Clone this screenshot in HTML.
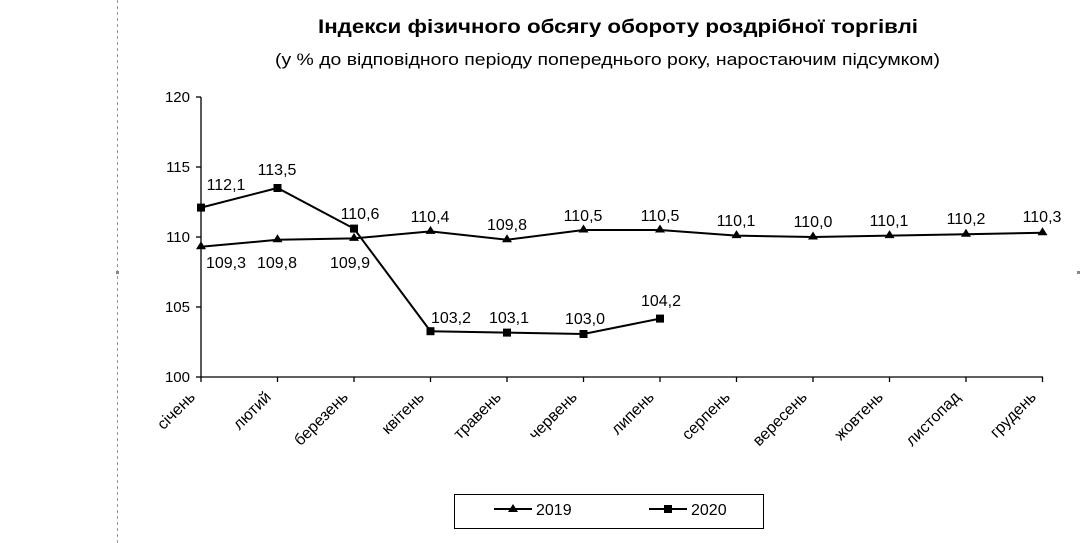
<!DOCTYPE html>
<html><head><meta charset="utf-8"><style>
html,body{margin:0;padding:0;background:#fff;}
svg{display:block;font-family:"Liberation Sans",Arial,sans-serif;}
</style></head><body>
<svg width="1082" height="543" viewBox="0 0 1082 543" xmlns="http://www.w3.org/2000/svg">
<line x1="117.5" y1="0" x2="117.5" y2="543" stroke="#999" stroke-dasharray="3,3"/>
<rect x="116" y="271" width="3" height="3" fill="#888"/>
<rect x="1077" y="271" width="3" height="3" fill="#888"/>
<text x="318" y="33" font-size="19" font-weight="bold" textLength="600" lengthAdjust="spacingAndGlyphs">Індекси фізичного обсягу обороту роздрібної торгівлі</text>
<text x="275" y="65" font-size="17" textLength="665" lengthAdjust="spacingAndGlyphs">(у % до відповідного періоду попереднього року, наростаючим підсумком)</text>
<g stroke="#000" stroke-width="1.3">
<line x1="201" y1="97" x2="201" y2="377"/>
<line x1="201" y1="377" x2="1043" y2="377"/>
<line x1="196" y1="97" x2="201" y2="97"/><line x1="196" y1="167" x2="201" y2="167"/><line x1="196" y1="237" x2="201" y2="237"/><line x1="196" y1="307" x2="201" y2="307"/><line x1="196" y1="377" x2="201" y2="377"/>
</g>
<g font-size="15" text-anchor="end">
<text x="190" y="102">120</text><text x="190" y="172">115</text><text x="190" y="242">110</text><text x="190" y="312">105</text><text x="190" y="382">100</text>
</g>
<g stroke="#000" stroke-width="1.3">
<line x1="201" y1="377" x2="201" y2="382"/><line x1="277.5" y1="377" x2="277.5" y2="382"/><line x1="354" y1="377" x2="354" y2="382"/><line x1="430.5" y1="377" x2="430.5" y2="382"/><line x1="507" y1="377" x2="507" y2="382"/><line x1="583.5" y1="377" x2="583.5" y2="382"/><line x1="660" y1="377" x2="660" y2="382"/><line x1="736.5" y1="377" x2="736.5" y2="382"/><line x1="813" y1="377" x2="813" y2="382"/><line x1="889.5" y1="377" x2="889.5" y2="382"/><line x1="966" y1="377" x2="966" y2="382"/><line x1="1042.5" y1="377" x2="1042.5" y2="382"/>
</g>
<g font-size="16" text-anchor="end">
<text transform="translate(196,398) rotate(-45)">січень</text>
<text transform="translate(272,398) rotate(-45)">лютий</text>
<text transform="translate(349,398) rotate(-45)">березень</text>
<text transform="translate(425,398) rotate(-45)">квітень</text>
<text transform="translate(502,398) rotate(-45)">травень</text>
<text transform="translate(578,398) rotate(-45)">червень</text>
<text transform="translate(655,398) rotate(-45)">липень</text>
<text transform="translate(731,398) rotate(-45)">серпень</text>
<text transform="translate(808,398) rotate(-45)">вересень</text>
<text transform="translate(884,398) rotate(-45)">жовтень</text>
<text transform="translate(961,398) rotate(-45)">листопад</text>
<text transform="translate(1037,398) rotate(-45)">грудень</text>
</g>
<polyline fill="none" stroke="#000" stroke-width="2" points="201,246.8 277.5,239.8 354,238.4 430.5,231.4 507,239.8 583.5,230 660,230 736.5,235.6 813,237 889.5,235.6 966,234.2 1042.5,232.8"/>
<g fill="#000">
<path d="M201,241.3 l5,8 h-10z"/><path d="M277.5,234.3 l5,8 h-10z"/><path d="M354,232.9 l5,8 h-10z"/><path d="M430.5,225.9 l5,8 h-10z"/><path d="M507,234.3 l5,8 h-10z"/><path d="M583.5,224.5 l5,8 h-10z"/><path d="M660,224.5 l5,8 h-10z"/><path d="M736.5,230.1 l5,8 h-10z"/><path d="M813,231.5 l5,8 h-10z"/><path d="M889.5,230.1 l5,8 h-10z"/><path d="M966,228.7 l5,8 h-10z"/><path d="M1042.5,227.3 l5,8 h-10z"/>
</g>
<polyline fill="none" stroke="#000" stroke-width="2" points="201,207.6 277.5,188 354,228.6 430.5,331.2 507,332.6 583.5,334 660,318.6"/>
<g fill="#000">
<rect x="197" y="203.6" width="8" height="8"/><rect x="273.5" y="184" width="8" height="8"/><rect x="350" y="224.6" width="8" height="8"/><rect x="426.5" y="327.2" width="8" height="8"/><rect x="503" y="328.6" width="8" height="8"/><rect x="579.5" y="330" width="8" height="8"/><rect x="656" y="314.6" width="8" height="8"/>
</g>
<g font-size="16" text-anchor="middle">
<text x="226" y="268">109,3</text><text x="277" y="268">109,8</text><text x="350" y="268">109,9</text>
<text x="430" y="222">110,4</text><text x="507" y="230">109,8</text><text x="583" y="221">110,5</text><text x="660" y="221">110,5</text><text x="736" y="226">110,1</text><text x="813" y="227">110,0</text><text x="889" y="226">110,1</text><text x="966" y="224">110,2</text><text x="1042" y="222">110,3</text>
<text x="226" y="190">112,1</text><text x="277" y="175">113,5</text><text x="360" y="219">110,6</text>
<text x="451" y="323">103,2</text><text x="509" y="323">103,1</text><text x="585" y="324">103,0</text><text x="661" y="306">104,2</text>
</g>
<rect x="454.5" y="494.5" width="309" height="34" fill="none" stroke="#000" stroke-width="1"/>
<line x1="494" y1="509" x2="532" y2="509" stroke="#000" stroke-width="2"/>
<path d="M513,504 l5,8 h-10z" fill="#000"/>
<text x="536" y="515" font-size="16">2019</text>
<line x1="649" y1="509" x2="687" y2="509" stroke="#000" stroke-width="2"/>
<rect x="664" y="505" width="8" height="8" fill="#000"/>
<text x="691" y="515" font-size="16">2020</text>
</svg>
</body></html>
